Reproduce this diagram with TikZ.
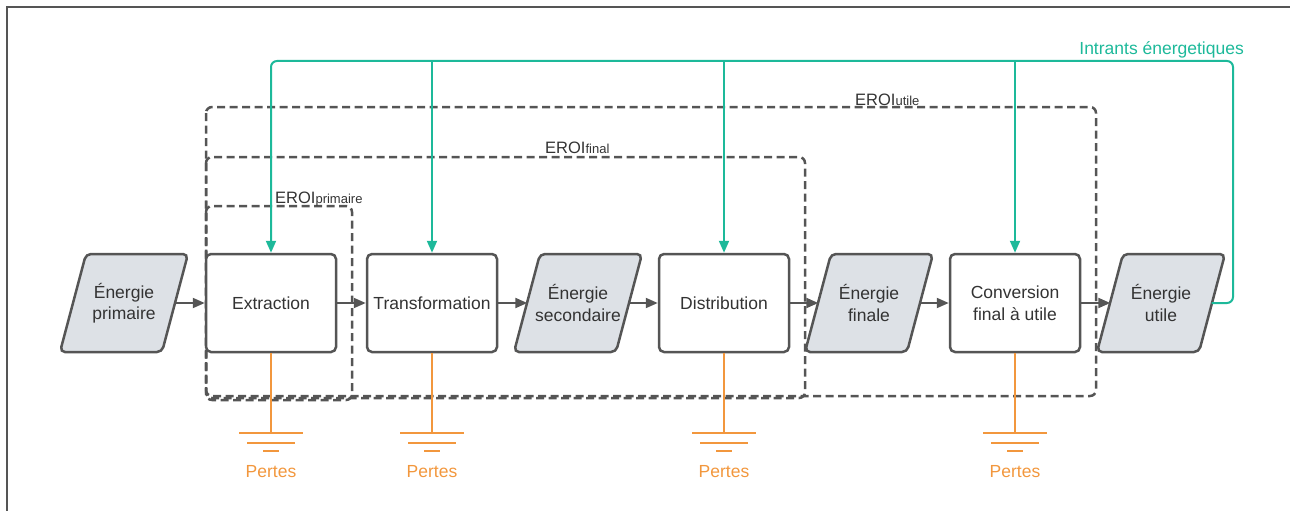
\documentclass[tikz,border=0pt]{standalone}
\usepackage{fontspec}
\setmainfont{Liberation Sans}
\usetikzlibrary{arrows.meta}
\definecolor{dk}{HTML}{555555}
\definecolor{fillg}{HTML}{DDE1E6}
\definecolor{tealc}{HTML}{1DB99A}
\definecolor{orng}{HTML}{F2973D}
\definecolor{txt}{HTML}{333333}
\newcommand\paradraw[1]{\draw[parashape] ({#1-64},352) -- ({#1-38},254) -- ({#1+64},254) -- ({#1+38},352) -- cycle;}
\begin{document}
\begin{tikzpicture}[x=1pt,y=-1pt,
  font=\fontsize{17.5}{21.5}\selectfont,
  procbox/.style={draw=dk,line width=2.5pt,rounded corners=5pt,minimum width=130pt,minimum height=98pt,fill=white,text=txt,align=center,inner sep=0pt},
  paratext/.style={minimum width=101pt,minimum height=98pt,text=txt,align=center,inner sep=0pt},
  parashape/.style={draw=dk,fill=fillg,line width=2.5pt,rounded corners=5pt},
  flow/.style={draw=dk,line width=2pt,-{Triangle[length=12pt,width=10pt]}},
  feed/.style={draw=tealc,line width=2pt,rounded corners=6pt,-{Triangle[length=12pt,width=10pt]}},
  loss/.style={draw=orng,line width=2.5pt},
  losstext/.style={text=orng,anchor=base,inner sep=0pt},
  eroibox/.style={draw=dk,line width=2.5pt,dash pattern=on 8pt off 4.5pt,rounded corners=6pt},
  eroilabel/.style={text=txt,anchor=base west,inner sep=0pt,font=\fontsize{16.5}{20}\selectfont}
]
\useasboundingbox (0,0) rectangle (1290,511);
\draw[dk,line width=1.5pt] (7,511) -- (7,7) -- (1290,7);

% EROI boxes
\draw[eroibox] (206,107) rectangle (1096,396);
\draw[eroibox] (206,157) rectangle (805,398);
\draw[eroibox] (206,206) rectangle (352,400);
\node[eroilabel] (Lu) at (855,105) {EROI{\fontsize{13}{15}\selectfont utile}};
\node[eroilabel] (Lf) at (545,153) {EROI{\fontsize{13}{15}\selectfont final}};
\node[eroilabel] (Lp) at (275,203) {EROI{\fontsize{13}{15}\selectfont primaire}};

% parallelograms
\paradraw{124}
\paradraw{578}
\paradraw{869}
\paradraw{1161}
\node[paratext] (EP) at (124,303) {Énergie\\primaire};
\node[paratext] (ES) at (578,303) {Énergie\\secondaire};
\node[paratext] (EF) at (869,303) {Énergie\\finale};
\node[paratext] (EU) at (1161,303) {Énergie\\utile};

% process boxes
\node[procbox] (Ex) at (271,303) {Extraction};
\node[procbox] (Tr) at (432,303) {Transformation};
\node[procbox] (Di) at (724,303) {Distribution};
\node[procbox] (Co) at (1015,303) {Conversion\\final à utile};

% flow arrows
\draw[flow] (EP.east) -- (Ex.west);
\draw[flow] (Ex.east) -- (Tr.west);
\draw[flow] (Tr.east) -- (ES.west);
\draw[flow] (ES.east) -- (Di.west);
\draw[flow] (Di.east) -- (EF.west);
\draw[flow] (EF.east) -- (Co.west);
\draw[flow] (Co.east) -- (EU.west);

% energy inputs
\coordinate (tl) at (271,61);
\coordinate (tr) at (1233,61);
\draw[feed] (EU.east) -- (EU.east -| tr) -- (tr) -- (tl) -- (Ex.north);
\draw[feed] (Tr.north |- tl) -- (Tr.north);
\draw[feed] (Di.north |- tl) -- (Di.north);
\draw[feed] (Co.north |- tl) -- (Co.north);
\node[text=tealc,anchor=base east,inner sep=0pt] (IE) at (1244,55) {Intrants énergetiques};

% losses
\foreach \n/\xx in {Ex/271,Tr/432,Di/724,Co/1015}{
  \coordinate (g\n) at (\xx,433);
  \draw[loss] (\n.south) -- (g\n);
  \draw[loss] ([xshift=-32pt]g\n) -- ([xshift=32pt]g\n);
  \draw[loss] ([xshift=-24pt,yshift=-10pt]g\n) -- ([xshift=24pt,yshift=-10pt]g\n);
  \draw[loss] ([xshift=-8pt,yshift=-18pt]g\n) -- ([xshift=8pt,yshift=-18pt]g\n);
  \node[losstext] (P\n) at (\xx,477) {Pertes};
}
\end{tikzpicture}
\end{document}
